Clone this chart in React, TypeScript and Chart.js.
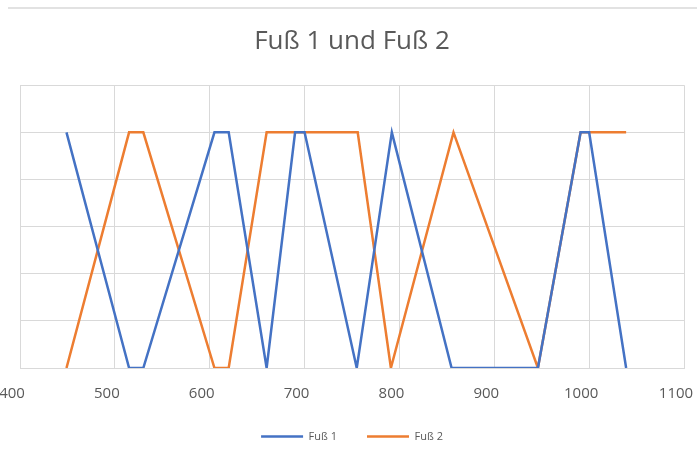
import { useEffect, useRef } from "react";
import { Chart, registerables } from "chart.js";

Chart.register(...registerables);

const seriesNames = ["Fuß 1", "Fuß 2"];
const chartTitle = "Fuß 1 und Fuß 2";

const fuss1X = [449, 515, 530, 605, 620, 660, 690, 700, 755, 792, 855, 946, 991, 1000, 1039];
const fuss1Y = [1, 0, 0, 1, 1, 0, 1, 1, 0, 1, 0, 0, 1, 1, 0];

const fuss2X = [449, 515, 530, 605, 620, 660, 756, 791, 857, 946, 991, 1039];
const fuss2Y = [0, 1, 1, 0, 0, 1, 1, 0, 1, 0, 1, 1];

const xMin = 400;
const xMax = 1100;
const xStep = 100;
const yMin = 0;
const yMax = 1.2;
const yStep = 0.2;

const BLUE = "#4472C4";
const ORANGE = "#ED7D31";
const TEXT = "#595959";
const GRID = "#d9d9d9";
const FONT = "'Open Sans', sans-serif";

const CANVAS_SHIFT = 40;
const CANVAS_W = 760;
const CANVAS_H = 459;

export default function App() {
  const ref = useRef<HTMLCanvasElement>(null);

  useEffect(() => {
    const canvas = ref.current;
    if (!canvas) return;
    const chart = new Chart(canvas, {
      type: "line",
      data: {
        datasets: [
          {
            label: seriesNames[0],
            data: fuss1X.map((x, i) => ({ x, y: fuss1Y[i] })),
            borderColor: BLUE,
            backgroundColor: BLUE,
            borderWidth: 2.5,
            pointRadius: 0,
            tension: 0,
          },
          {
            label: seriesNames[1],
            data: fuss2X.map((x, i) => ({ x, y: fuss2Y[i] })),
            borderColor: ORANGE,
            backgroundColor: ORANGE,
            borderWidth: 2.5,
            pointRadius: 0,
            tension: 0,
          },
        ],
      },
      options: {
        responsive: false,
        animation: false,
        events: [],
        layout: { padding: { left: 60, right: 36, top: 0, bottom: 7 } },
        plugins: {
          title: {
            display: true,
            text: chartTitle,
            color: TEXT,
            font: { family: FONT, size: 26, weight: "normal" },
            padding: { top: 26, bottom: 28 },
          },
          legend: {
            position: "bottom",
            labels: {
              usePointStyle: true,
              pointStyle: "line",
              pointStyleWidth: 42,
              color: TEXT,
              font: { family: FONT, size: 11 },
              padding: 30,
            },
          },
          tooltip: { enabled: false },
        },
        scales: {
          x: {
            type: "linear",
            min: xMin,
            max: xMax,
            ticks: {
              stepSize: xStep,
              color: TEXT,
              font: { family: FONT, size: 15 },
              padding: 17,
              labelOffset: -8,
              callback: (v: any) => String(v),
            },
            grid: { color: GRID, drawTicks: false },
            border: { color: GRID },
            afterFit: (s: any) => {
              s.height -= 19;
            },
          },
          y: {
            min: yMin,
            max: yMax,
            ticks: { display: false, stepSize: yStep },
            grid: { color: GRID, drawTicks: false },
            border: { display: false },
          },
        },
      },
    });
    return () => chart.destroy();
  }, []);

  return (
    <div
      style={{
        position: "absolute",
        left: 0,
        top: 0,
        width: 697,
        height: 459,
        overflow: "hidden",
        background: "#fff",
      }}
    >
      <div
        style={{
          position: "absolute",
          left: 8,
          right: 0,
          top: 7,
          height: 2,
          background: "#e2e2e2",
        }}
      />
      <canvas
        ref={ref}
        width={CANVAS_W}
        height={CANVAS_H}
        style={{ position: "absolute", left: -CANVAS_SHIFT, top: 0, width: CANVAS_W, height: CANVAS_H }}
      />
    </div>
  );
}
